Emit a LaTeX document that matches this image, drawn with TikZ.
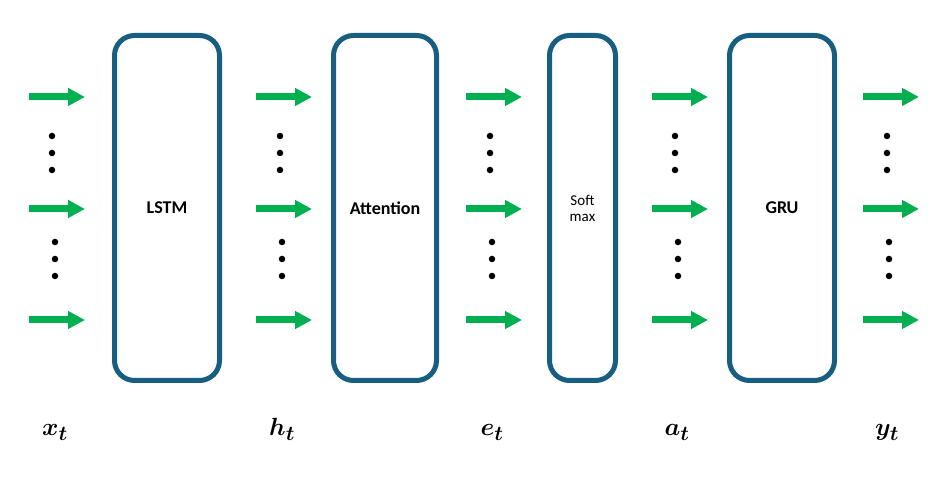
\documentclass[tikz,border=0pt]{standalone}
\usepackage{amsmath}
\usepackage{fontspec}
\setsansfont{Carlito}
\usetikzlibrary{arrows.meta}
\definecolor{boxblue}{RGB}{23,94,129}
\definecolor{flowgreen}{RGB}{0,176,80}
\tikzset{
  block/.style={draw=boxblue,line width=5pt,rounded corners=20pt,minimum width=105pt,
    minimum height=345pt,inner sep=0pt,align=center,font=\sffamily\bfseries\fontsize{18}{20}\selectfont},
  flow/.style={flowgreen,line width=7pt,-{Triangle[length=17pt,width=17pt]}},
  vdot/.style={circle,fill=black,inner sep=0pt,minimum size=6.5pt},
  vlabel/.style={anchor=base,inner sep=0pt,font=\fontsize{24.88}{28}\selectfont}
}
\begin{document}
\begin{tikzpicture}[x=1pt,y=1pt]
\useasboundingbox (0,0) rectangle (951,486);
% blocks
\node[block] (lstm) at (167,278) {LSTM};
\node[block,minimum width=103pt] (att) at (385,278) {Attention};
\node[block,minimum width=66pt,font=\sffamily\fontsize{15}{16}\selectfont] (smax) at (582.5,278) {Soft\\max};
\node[block] (gru) at (782,278) {GRU};
% arrows and dots
\foreach \n/\xs/\da/\db in {x/29/52/55,h/256/280/282,e/466/490/492,a/652/675/678,y/863/887/889}{
  \foreach \r/\yy in {1/389,2/277,3/166}{
    \coordinate (\n\r s) at (\xs,\yy);
    \coordinate (\n\r e) at (\xs+56,\yy);
    \draw[flow] (\n\r s) -- (\n\r e);
  }
  \foreach \yy in {350,333,316} \node[vdot] (d\n\yy) at (\da,\yy) {};
  \foreach \yy in {244,227,210} \node[vdot] (d\n\yy) at (\db,\yy) {};
}
% labels
\node[vlabel] (lx) at (55,50) {$\boldsymbol{x_t}$};
\node[vlabel] (lh) at (282,50) {$\boldsymbol{h_t}$};
\node[vlabel] (le) at (492,50) {$\boldsymbol{e_t}$};
\node[vlabel] (la) at (677,50) {$\boldsymbol{a_t}$};
\node[vlabel] (ly) at (887,50) {$\boldsymbol{y_t}$};
\end{tikzpicture}
\end{document}
